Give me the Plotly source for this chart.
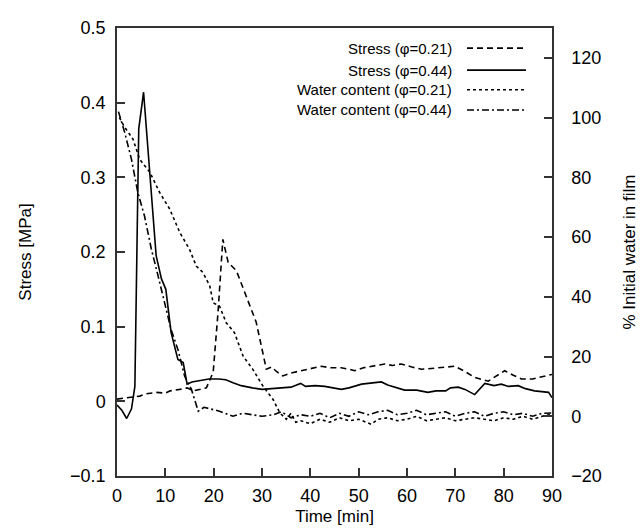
import plotly.graph_objects as go

# ---------------- data ----------------
t_s044 = [0, 1, 2, 3, 3.7, 4.5, 5.5, 6.8, 8.1, 9.2, 10.1, 11.2, 12.6, 13.7, 14.5, 15.5, 17, 19, 21,
          22.5, 24, 25.7, 28, 30, 32, 34.7, 36, 38, 39, 41, 43, 46.4, 48, 50.6, 52, 54.7, 56, 59.5,
          62, 64.3, 66, 68, 69, 70.6, 72, 74, 76.1, 78, 79.5, 81, 83, 84.5, 86.4, 88, 89.3, 90]
s044 = [-0.005, -0.012, -0.023, -0.010, 0.02, 0.365, 0.414, 0.298, 0.195, 0.164, 0.150, 0.092, 0.056,
        0.052, 0.023, 0.026, 0.028, 0.030, 0.030, 0.029, 0.025, 0.021, 0.018, 0.016, 0.017, 0.018,
        0.019, 0.024, 0.020, 0.021, 0.020, 0.016, 0.018, 0.023, 0.024, 0.026, 0.022, 0.015, 0.015,
        0.012, 0.014, 0.014, 0.018, 0.019, 0.016, 0.009, 0.024, 0.021, 0.023, 0.020, 0.021, 0.017,
        0.014, 0.013, 0.012, 0.005]

t_s021 = [0, 2, 4.7, 6, 8.1, 10, 11, 13, 14.5, 15.8, 17, 18.5, 19.9, 20.9, 21.9, 23, 24.7, 26.8,
          28.8, 30.9, 32, 33, 34.3, 36, 38.1, 40, 42.3, 44, 46.4, 48, 49.2, 51, 53, 55.4, 57, 58.8,
          61, 63, 65, 67, 69.9, 72, 74, 76.8, 78.5, 80.2, 82, 83.7, 86, 88, 89.2, 90]
s021 = [0.003, 0.005, 0.007, 0.010, 0.012, 0.011, 0.014, 0.016, 0.018, 0.014, 0.016, 0.018, 0.039,
        0.119, 0.217, 0.186, 0.175, 0.141, 0.106, 0.043, 0.046, 0.040, 0.034, 0.038, 0.041, 0.043,
        0.047, 0.045, 0.045, 0.043, 0.041, 0.045, 0.047, 0.050, 0.048, 0.050, 0.046, 0.043, 0.044,
        0.045, 0.047, 0.040, 0.032, 0.027, 0.034, 0.041, 0.035, 0.030, 0.030, 0.033, 0.034, 0.036]

t_w021 = [0.5, 1.5, 3.3, 4.7, 6.8, 8.8, 10.9, 13, 15, 16.4, 17.8, 19.2, 19.9, 21.2, 22.6, 24.3, 26.1,
          28.1, 30.2, 32.3, 33.7, 35, 36, 37, 38, 40, 42, 44, 46, 48, 50, 52.6, 54, 56, 58, 60, 62,
          64, 66, 68, 70, 72, 74, 76, 78, 80, 82, 84, 86, 88, 90]
w021 = [100, 97, 92.8, 86, 81.7, 75, 69.4, 61.5, 55.9, 50.3, 48.1, 43.6, 38, 36.9, 31.3, 28, 20.1,
        15.7, 10.1, 5.6, 1.1, -1, 1, -2, -1.5, -2.5, -1, -2, -0.5, -1.5, -1, -2.7, -1, -0.5, -1.5,
        -1, 0, -1.5, -1, -0.5, -1.5, -1, -0.5, -1, -1.5, -0.5, -1, 0, -1, 0, 0.7]

t_w044 = [0.3, 1.6, 3, 4.3, 5.7, 7.1, 8.5, 9.9, 11.2, 12.6, 14, 15.4, 16.8, 18, 19.5, 21.2, 24, 26,
          28, 30, 32.3, 34, 36, 38, 40, 42, 44, 46, 48, 50, 52, 54, 56, 58, 60, 62, 64, 66, 68, 70,
          72, 74, 76, 78, 80, 82, 84, 86, 88, 90]
w044 = [102, 95, 86, 75, 67, 56, 47, 38, 29, 22.4, 13.4, 9, 1.7, 3, 2.5, 1.7, 0, 1, 0.5, 0, 0.5,
        1.5, -0.5, 0.5, 0, 1, -0.5, 1, 0, 1.5, 0.5, 1.5, 2, 0.5, 1, 2, 0.5, 1, 1.5, 0, 1, 1.5, 0,
        1, 1.5, 0.5, 1, 0, 1, 1.1]

legend_labels = ["Stress (\u03c6=0.21)", "Stress (\u03c6=0.44)",
                 "Water content (\u03c6=0.21)", "Water content (\u03c6=0.44)"]

x_ticks = [0, 10, 20, 30, 40, 50, 60, 70, 80, 90]
y_ticks = [-0.1, 0, 0.1, 0.2, 0.3, 0.4, 0.5]
y_ticktext = ["\u22120.1", "0", "0.1", "0.2", "0.3", "0.4", "0.5"]
y2_ticks = [-20, 0, 20, 40, 60, 80, 100, 120]
y2_ticktext = ["\u221220", "0", "20", "40", "60", "80", "100", "120"]

# ---------------- styles ----------------
DASH_STRESS = "6px,4px"
DASH_WATER = "3px,3px"
DASH_DOT = "7px,3px,2px,3px"
styles = [DASH_STRESS, "solid", DASH_WATER, DASH_DOT]
LW = 1.6
FONT = "Liberation Sans, Arial, Helvetica, sans-serif"

fig = go.Figure()
fig.add_trace(go.Scatter(x=t_s021, y=s021, mode="lines", name=legend_labels[0],
                         line=dict(color="black", width=LW, dash=DASH_STRESS)))
fig.add_trace(go.Scatter(x=t_s044, y=s044, mode="lines", name=legend_labels[1],
                         line=dict(color="black", width=LW, dash="solid")))
fig.add_trace(go.Scatter(x=t_w021, y=w021, mode="lines", name=legend_labels[2], yaxis="y2",
                         line=dict(color="black", width=LW, dash=DASH_WATER)))
fig.add_trace(go.Scatter(x=t_w044, y=w044, mode="lines", name=legend_labels[3], yaxis="y2",
                         line=dict(color="black", width=LW, dash=DASH_DOT)))

# custom legend (text left, line sample right)
leg_x_text = 0.7747
leg_x0, leg_x1 = 0.8046, 0.9402
leg_y = [0.955, 0.906, 0.862, 0.817]
for lab, yy, st in zip(legend_labels, leg_y, styles):
    fig.add_annotation(x=leg_x_text, y=yy, xref="paper", yref="paper", text=lab,
                       showarrow=False, xanchor="right", yanchor="middle",
                       font=dict(size=15, color="black", family=FONT))
    fig.add_shape(type="line", xref="paper", yref="paper", x0=leg_x0, x1=leg_x1, y0=yy, y1=yy,
                  line=dict(color="black", width=LW, dash=st))

axis_common = dict(showgrid=False, zeroline=False, showline=True, linecolor="#333",
                   linewidth=1.5, ticks="inside", ticklen=8, tickwidth=1.5, tickcolor="#333",
                   automargin=False,
                   tickfont=dict(size=18, color="black", family=FONT))

fig.update_layout(
    width=644, height=532,
    margin=dict(l=109, r=100, t=20, b=64),
    paper_bgcolor="white", plot_bgcolor="white",
    showlegend=False,
    font=dict(family=FONT, color="black"),
    xaxis=dict(range=[0, 90], tickvals=x_ticks, mirror=True,
               title=dict(text="Time [min]", font=dict(size=17), standoff=5),
               **axis_common),
    yaxis=dict(range=[-0.1, 0.5], tickvals=y_ticks, ticktext=y_ticktext,
               title=dict(text="Stress [MPa]", font=dict(size=17), standoff=34),
               **axis_common),
    yaxis2=dict(range=[-20, 130], tickvals=y2_ticks, ticktext=y2_ticktext,
                overlaying="y", side="right",
                title=dict(text="% Initial water in film", font=dict(size=17), standoff=22),
                **axis_common),
)
fig.update_xaxes(ticklabelstandoff=3)
fig.update_yaxes(ticklabelstandoff=6)
fig.update_layout(yaxis2=dict(ticklabelstandoff=14))

fig.write_html("out.html")
